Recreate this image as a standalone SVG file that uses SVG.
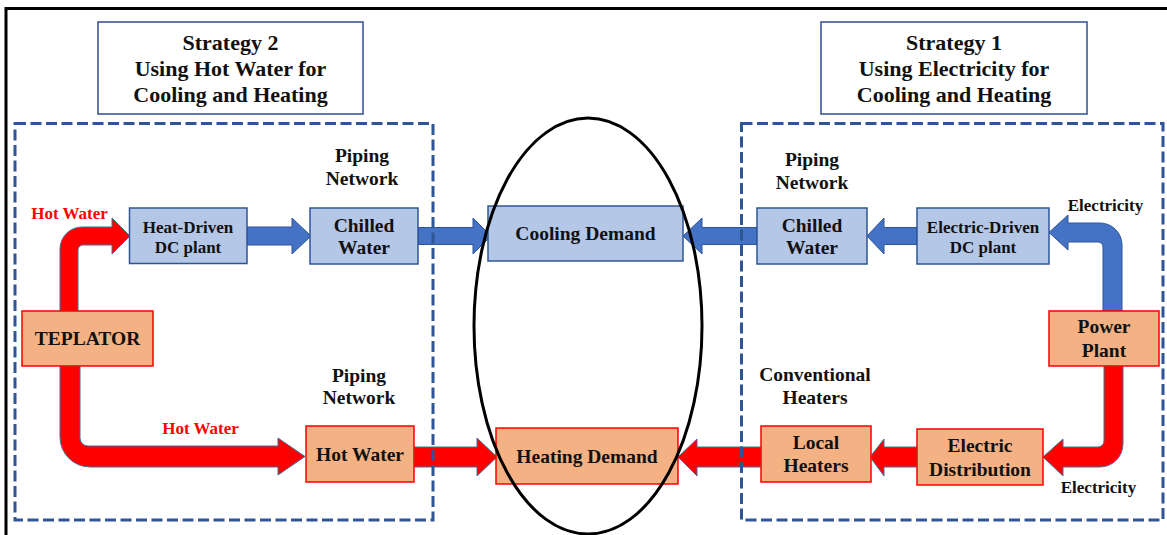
<svg xmlns="http://www.w3.org/2000/svg" width="1167" height="535" viewBox="0 0 1167 535">
  <style>
    text { font-family: "Liberation Serif", "Times New Roman", serif; font-weight: bold; text-anchor: middle; fill: #111; }
    .title { font-size: 22px; }
    .lbl { font-size: 19.5px; }
    .sm { font-size: 17px; }
    .flow { font-size: 17px; }
    .red { fill: #FF0000; }
    .cool { fill: #B4C7E7; stroke: #2F5597; stroke-width: 1.5; }
    .heat { fill: #F4B183; stroke: #FF0000; stroke-width: 1.5; }
    .head { fill: #FFFFFF; stroke: #2F4F8F; stroke-width: 1.5; }
    .zone { fill: none; stroke: #2F5597; stroke-width: 3; stroke-dasharray: 11 4.5; }
    .ba { fill: #4472C4; stroke: #2F5597; stroke-width: 1; }
    .ra { fill: #FF0000; stroke: #41719C; stroke-width: 1; }
  </style>

  <!-- frame -->
  <path d="M6 535 L6 8.5 L1167 8.5" fill="none" stroke="#000" stroke-width="3"/>

  <!-- strategy headers -->
  <g id="strategy2">
    <rect class="head" x="98" y="22" width="265" height="92"/>
    <text class="title" x="230.5" y="50">Strategy 2</text>
    <text class="title" x="230.5" y="76">Using Hot Water for</text>
    <text class="title" x="230.5" y="102">Cooling and Heating</text>
  </g>
  <g id="strategy1">
    <rect class="head" x="821" y="22" width="266" height="92"/>
    <text class="title" x="954" y="50">Strategy 1</text>
    <text class="title" x="954" y="76">Using Electricity for</text>
    <text class="title" x="954" y="102">Cooling and Heating</text>
  </g>

  <!-- flow arrows -->
  <g id="connectors">
    <!-- left side, hot water supply -->
    <path class="ra" d="M60 311 L60 249 A22 22 0 0 1 82 227 L112 227 L112 218 L130 236 L112 254 L112 245 L83 245 A5 5 0 0 0 78 250 L78 311 Z"/>
    <path class="ra" d="M60 366 L60 437 A30 30 0 0 0 90 467 L278 467 L278 475 L305 456.5 L278 438 L278 446 L88 446 A8 8 0 0 1 80 438 L80 366 Z"/>
    <!-- left side, chilled water chain -->
    <path class="ba" d="M247 227 L292 227 L292 218 L311 236 L292 254 L292 245 L247 245 Z"/>
    <path class="ba" d="M418 227.5 L473 227.5 L473 218 L491 236 L473 254 L473 244.5 L418 244.5 Z"/>
    <!-- left side, hot water to heating demand -->
    <path class="ra" d="M414 447 L477 447 L477 438 L497 457 L477 476 L477 467 L414 467 Z"/>
    <!-- right side, cooling chain -->
    <path class="ba" d="M757 227.5 L702 227.5 L702 218 L683 236 L702 254 L702 244.5 L757 244.5 Z"/>
    <path class="ba" d="M917 227.5 L884 227.5 L884 218 L867 236 L884 254 L884 244.5 L917 244.5 Z"/>
    <path class="ba" d="M1103 311 L1103 247 A5 5 0 0 0 1098 242 L1068 242 L1068 250 L1049 232.5 L1068 215 L1068 223 L1100 223 A22 22 0 0 1 1122 245 L1122 311 Z"/>
    <!-- right side, heating chain -->
    <path class="ra" d="M1104 366 L1104 441 A6 6 0 0 1 1098 447 L1063 447 L1063 439 L1043 457 L1063 476 L1063 467 L1100 467 A23 23 0 0 0 1123 444 L1123 366 Z"/>
    <path class="ra" d="M917 447 L884 447 L884 439 L870 457 L884 476 L884 467 L917 467 Z"/>
    <path class="ra" d="M761 447 L697 447 L697 439 L678 457 L697 476 L697 467 L761 467 Z"/>
  </g>

  <!-- strategy zones -->
  <rect class="zone" x="15" y="123.5" width="418" height="396.5"/>
  <rect class="zone" x="741.5" y="123.5" width="421.5" height="396.5"/>

  <!-- Strategy 2 nodes -->
  <g id="teplator">
    <rect class="heat" x="22" y="311" width="131" height="55"/>
    <text class="lbl" x="87.5" y="345">TEPLATOR</text>
  </g>
  <g id="heat-driven-dc">
    <rect class="cool" x="129.5" y="208" width="117.5" height="55.5"/>
    <text class="sm" x="188" y="233">Heat-Driven</text>
    <text class="sm" x="188" y="253">DC plant</text>
  </g>
  <g id="chilled-water-2">
    <rect class="cool" x="310" y="208" width="108" height="56"/>
    <text class="lbl" x="364" y="232">Chilled</text>
    <text class="lbl" x="364" y="254">Water</text>
  </g>
  <g id="hot-water-2">
    <rect class="heat" x="306" y="426" width="108" height="56"/>
    <text class="lbl" x="360" y="461">Hot Water</text>
  </g>

  <!-- shared demands -->
  <g id="cooling-demand">
    <rect class="cool" x="488" y="206" width="195" height="55"/>
    <text class="lbl" x="585.5" y="240">Cooling Demand</text>
  </g>
  <g id="heating-demand">
    <rect class="heat" x="496" y="428" width="182" height="56"/>
    <text class="lbl" x="587" y="463">Heating Demand</text>
  </g>

  <!-- Strategy 1 nodes -->
  <g id="chilled-water-1">
    <rect class="cool" x="757" y="208" width="110" height="56"/>
    <text class="lbl" x="812" y="232">Chilled</text>
    <text class="lbl" x="812" y="254">Water</text>
  </g>
  <g id="electric-driven-dc">
    <rect class="cool" x="917" y="208" width="132" height="56"/>
    <text class="sm" x="983" y="233">Electric-Driven</text>
    <text class="sm" x="983" y="253">DC plant</text>
  </g>
  <g id="power-plant">
    <rect class="heat" x="1049" y="311" width="110" height="55"/>
    <text class="lbl" x="1104" y="333">Power</text>
    <text class="lbl" x="1104" y="357">Plant</text>
  </g>
  <g id="electric-distribution">
    <rect class="heat" x="917" y="429" width="126" height="56"/>
    <text class="lbl" x="980" y="452">Electric</text>
    <text class="lbl" x="980" y="476">Distribution</text>
  </g>
  <g id="local-heaters">
    <rect class="heat" x="761" y="426" width="110" height="56"/>
    <text class="lbl" x="816" y="449">Local</text>
    <text class="lbl" x="816" y="472">Heaters</text>
  </g>

  <!-- demand grouping -->
  <ellipse cx="588" cy="326" rx="114" ry="208" fill="none" stroke="#000" stroke-width="3"/>

  <!-- annotations -->
  <g id="labels">
    <text class="lbl" x="362" y="162">Piping</text>
    <text class="lbl" x="362" y="185">Network</text>
    <text class="lbl" x="359" y="382">Piping</text>
    <text class="lbl" x="359" y="404">Network</text>
    <text class="lbl" x="812" y="166">Piping</text>
    <text class="lbl" x="812" y="189">Network</text>
    <text class="lbl" x="815" y="381">Conventional</text>
    <text class="lbl" x="815" y="404">Heaters</text>
    <text class="flow red" x="69.5" y="219">Hot Water</text>
    <text class="flow red" x="200.5" y="434">Hot Water</text>
    <text class="flow" x="1105.5" y="211">Electricity</text>
    <text class="flow" x="1098.5" y="493">Electricity</text>
  </g>
</svg>
